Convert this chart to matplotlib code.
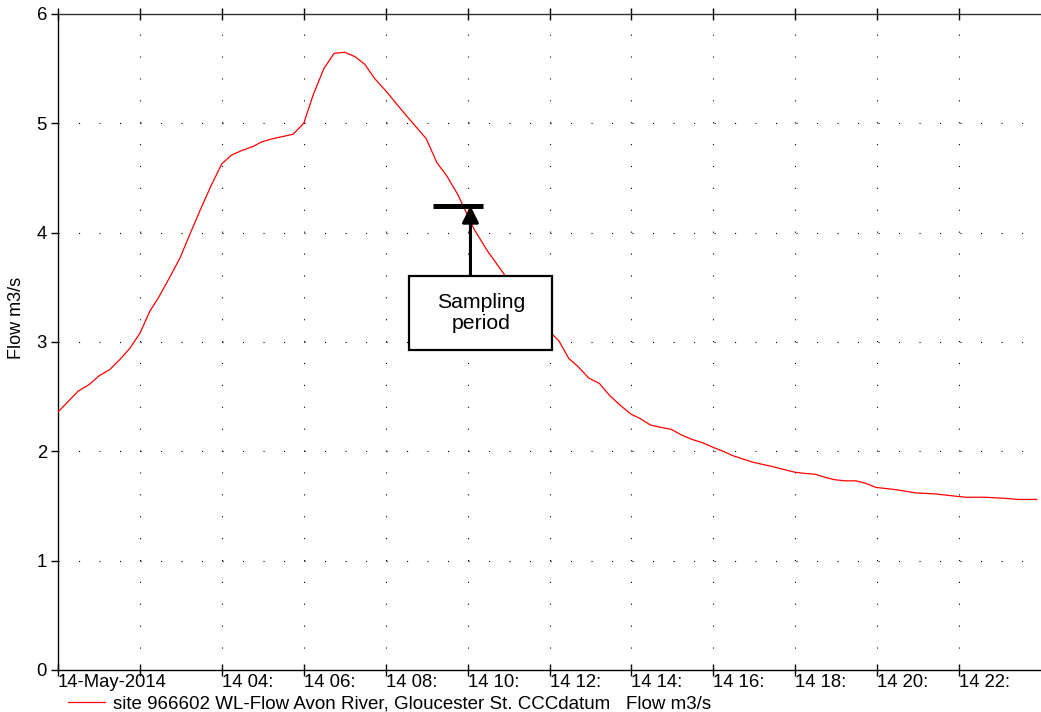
import matplotlib
matplotlib.use("Agg")
import matplotlib.pyplot as plt
from matplotlib.lines import Line2D

plt.rcParams['font.family'] = ['Liberation Sans', 'DejaVu Sans']

# Flow data (hours after 14-May-2014 00:00, m3/s)
hours = [0.0, 0.49, 0.76, 1.0, 1.27, 1.51, 1.75, 2.0, 2.24, 2.46, 2.74, 2.98,
         3.27, 3.51, 3.75, 4.0, 4.24, 4.48, 4.77, 4.97, 5.25, 5.74, 6.0,
         6.23, 6.49, 6.74, 7.0, 7.25, 7.49, 7.73, 8.02, 8.46, 8.99, 9.25,
         9.49, 9.76, 10.16, 10.49, 10.93, 11.5, 12.07, 12.23, 12.47, 12.71,
         12.96, 13.22, 13.47, 13.73, 13.99, 14.21, 14.47, 14.71, 14.98, 15.22,
         15.47, 15.73, 15.97, 16.24, 16.48, 16.72, 16.97, 17.21, 17.45, 17.76,
         17.98, 18.18, 18.49, 18.75, 18.97, 19.23, 19.48, 19.70, 19.97, 20.21,
         20.45, 20.94, 21.43, 21.91, 22.16, 22.64, 23.13, 23.45, 23.9]
flow = [2.36, 2.55, 2.61, 2.69, 2.75, 2.84, 2.94, 3.08, 3.28, 3.41, 3.60, 3.77,
        4.03, 4.24, 4.44, 4.63, 4.71, 4.75, 4.79, 4.83, 4.86, 4.90, 5.00,
        5.26, 5.50, 5.64, 5.65, 5.61, 5.54, 5.41, 5.29, 5.09, 4.86, 4.64,
        4.52, 4.35, 4.03, 3.83, 3.60, 3.33, 3.07, 3.01, 2.85, 2.77,
        2.67, 2.62, 2.51, 2.42, 2.34, 2.30, 2.24, 2.22, 2.20, 2.15,
        2.11, 2.08, 2.04, 2.00, 1.96, 1.93, 1.90, 1.88, 1.86, 1.83,
        1.81, 1.80, 1.79, 1.76, 1.74, 1.73, 1.73, 1.71, 1.67, 1.66,
        1.65, 1.62, 1.61, 1.59, 1.58, 1.58, 1.57, 1.56, 1.56]

x_ticks = [0, 2, 4, 6, 8, 10, 12, 14, 16, 18, 20, 22]
x_tick_labels = ["14-May-2014", "", "14 04:", "14 06:", "14 08:", "14 10:",
                 "14 12:", "14 14:", "14 16:", "14 18:", "14 20:", "14 22:"]
y_ticks = [0, 1, 2, 3, 4, 5, 6]
series_label = "site 966602 WL-Flow Avon River, Gloucester St. CCCdatum   Flow m3/s"

# Sampling period annotation
sampling_bar_x = (9.15, 10.37)
sampling_bar_y = 4.245
sampling_arrow_x = 10.07
sampling_box = (8.57, 2.93, 12.07, 3.60)  # x0, y0, x1, y1
sampling_text = "Sampling\nperiod"

FS = 13.3

fig = plt.figure(figsize=(10.41, 7.12), dpi=100)
ax = fig.add_axes([58 / 1041, 1 - 670 / 712, 983 / 1041, 656 / 712])

ax.plot(hours, flow, color='#ff0000', lw=0.9, zorder=3)

ax.set_xlim(0, 24)
ax.set_ylim(0, 6)
ax.set_xticks(x_ticks)
ax.set_xticklabels(x_tick_labels)
ax.set_yticks(y_ticks)
ax.set_yticklabels([str(v) for v in y_ticks])

ax.tick_params(axis='x', direction='inout', length=8, width=1, top=True,
               pad=-1, labelsize=FS)
ax.tick_params(axis='y', direction='out', length=5, width=1, pad=3, labelsize=FS)
for lab in ax.get_xticklabels():
    lab.set_horizontalalignment('left')

ax.spines['right'].set_visible(False)
ax.spines['top'].set_color('#333333')
for s in ['left', 'bottom', 'top']:
    ax.spines[s].set_linewidth(1)

# Dotted grid
for xv in x_ticks[1:]:
    ax.axvline(xv, color='black', lw=0.8, linestyle=(0, (1, 18.7)), zorder=1)
for yv in y_ticks[1:-1]:
    ax.axhline(yv, color='black', lw=0.8, linestyle=(0, (1, 17.45)), zorder=1)

ax.set_ylabel("Flow m3/s", fontsize=FS - 0.3)
ax.yaxis.set_label_coords(-33 / 983, (670 - 318) / 656)

# Annotation
ax.plot(list(sampling_bar_x), [sampling_bar_y, sampling_bar_y], color='black',
        lw=3.6, solid_capstyle='butt', zorder=5)
bx0, by0, bx1, by1 = sampling_box
ax.annotate("", xy=(sampling_arrow_x, sampling_bar_y), xytext=(sampling_arrow_x, by1),
            arrowprops=dict(arrowstyle='-|>,head_length=1.0,head_width=0.5',
                            color='black', lw=2.2, shrinkA=0, shrinkB=0), zorder=5)
rect = plt.Rectangle((bx0, by0), bx1 - bx0, by1 - by0, facecolor='white',
                     edgecolor='black', lw=1.6, zorder=6)
ax.add_patch(rect)
ax.text((bx0 + bx1) / 2, (by0 + by1) / 2, sampling_text, ha='center', va='center',
        fontsize=15.3, zorder=7, linespacing=1.1)

# Legend
handle = Line2D([], [], color='#ff0000', lw=0.9)
fig.legend([handle], [series_label], loc='center left',
           bbox_to_anchor=(68 / 1041, 1 - 704 / 712), borderaxespad=0, borderpad=0,
           handlelength=1.95, handletextpad=0.45, frameon=False, fontsize=13.5)

fig.savefig("out.png", dpi=100)
